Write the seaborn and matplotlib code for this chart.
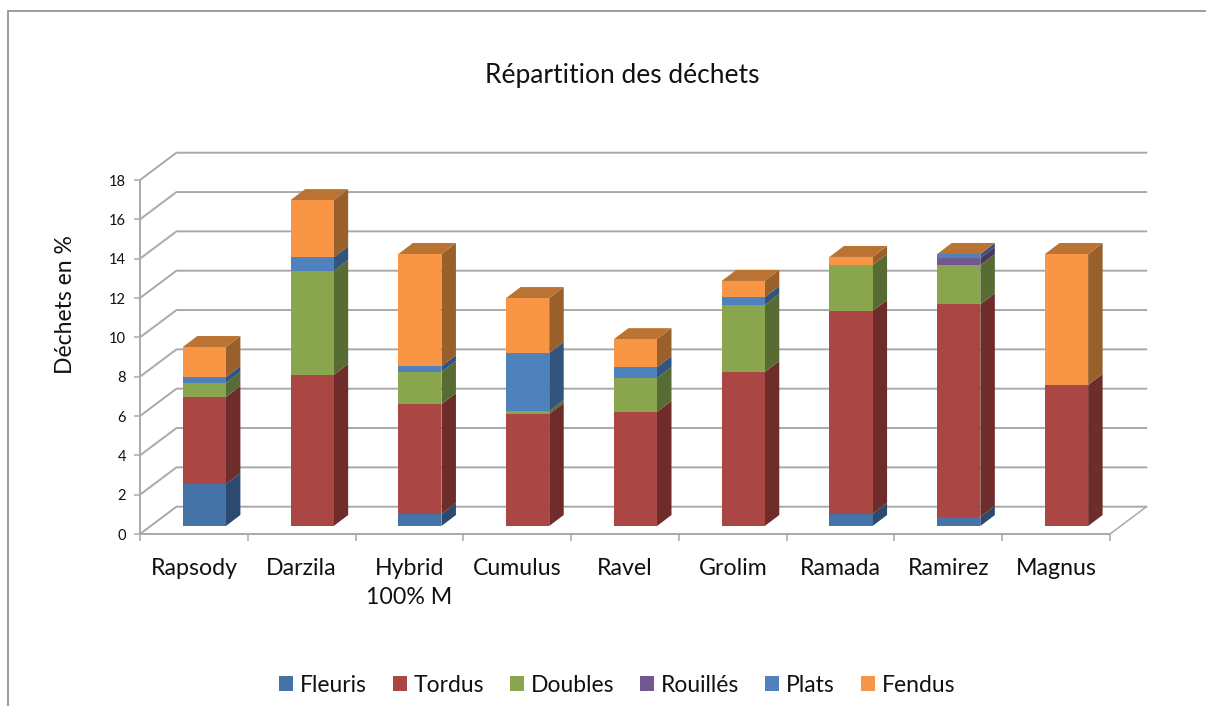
import numpy as np
import pandas as pd
import matplotlib
matplotlib.use("Agg")
import matplotlib.pyplot as plt
from matplotlib.patches import Polygon, Patch
from matplotlib.lines import Line2D
from matplotlib.transforms import Affine2D
import seaborn as sns

categories = ["Rapsody", "Darzila", "Hybrid\n100% M", "Cumulus", "Ravel", "Grolim", "Ramada", "Ramirez", "Magnus"]
fleuris = [2.13, 0, 0.61, 0, 0, 0, 0.61, 0.46, 0]
tordus = [4.43, 7.68, 5.59, 5.69, 5.80, 7.83, 10.32, 10.81, 7.17]
doubles = [0.71, 5.28, 1.63, 0.16, 1.72, 3.41, 2.34, 2.00, 0]
rouilles = [0, 0, 0, 0, 0, 0, 0, 0.35, 0]
plats = [0.30, 0.70, 0.30, 2.95, 0.56, 0.40, 0, 0.21, 0]
fendus = [1.53, 2.91, 5.70, 2.79, 1.42, 0.82, 0.41, 0, 6.66]

series_names = ["Fleuris", "Tordus", "Doubles", "Rouillés", "Plats", "Fendus"]
series_values = [fleuris, tordus, doubles, rouilles, plats, fendus]
front_colors = ["#4572A7", "#AA4643", "#89A54E", "#71588F", "#4F81BD", "#F99646"]
side_colors = ["#2C4A70", "#6E2D2B", "#586B32", "#48375E", "#33547D", "#99602B"]
top_color = "#BA7333"

sns.set_theme(style="white")
plt.rcParams["font.family"] = ["Lato", "DejaVu Sans"]
GREY = "#A9A9A9"
TXT = "#111111"

W, H = 1206, 706
fig = plt.figure(figsize=(W / 100, H / 100), dpi=100, facecolor="white")
ax = fig.add_axes([140 / W, (H - 534) / H, 970 / W, 354 / H])
ax.set_facecolor("none")

df = pd.DataFrame({"cat": categories})
cum = np.zeros(len(categories))
BAR_W = 0.40
px_x, px_y = 970 / 9, 354 / 18
off_x, off_y = 10.45 / px_x, 8 / px_y        # bars stand inside the floor
dep_x, dep_y = 14.5 / px_x, 11 / px_y        # bar depth
back_x, back_y = 36.5 / px_x, 27.3 / px_y    # back wall offset

for name, vals, fc in zip(series_names, series_values, front_colors):
    d = df.assign(v=vals)
    sns.barplot(data=d, x="cat", y="v", color=fc, saturation=1, width=BAR_W,
                bottom=cum.copy(), ax=ax, zorder=4, linewidth=0, errorbar=None)
    cum = cum + np.array(vals)

ax.set_xlim(-0.5, 8.5)
ax.set_ylim(0, 18)
front = Affine2D().translate(off_x, off_y) + ax.transData
for p in ax.patches:
    p.set_transform(front)
    p.set_clip_on(False)

# depth faces of each stacked segment
cum = np.zeros(len(categories))
for vals, sc in zip(series_values, side_colors):
    for i, v in enumerate(vals):
        if v > 0:
            x1 = i + BAR_W / 2
            b, t = cum[i], cum[i] + v
            ax.add_patch(Polygon([(x1, b), (x1, t), (x1 + dep_x, t + dep_y), (x1 + dep_x, b + dep_y)],
                                 closed=True, fc=sc, ec="none", transform=front, clip_on=False, zorder=3))
    cum = cum + np.array(vals)
for i, t in enumerate(cum):
    x0, x1 = i - BAR_W / 2, i + BAR_W / 2
    ax.add_patch(Polygon([(x0, t), (x1, t), (x1 + dep_x, t + dep_y), (x0 + dep_x, t + dep_y)],
                         closed=True, fc=top_color, ec="none", transform=front, clip_on=False, zorder=3))

# walls and floor lines
LW = 1.4
yticks = np.arange(0, 19, 2)
for v in yticks:
    ax.plot([-0.5, -0.5 + back_x, 8.5 + back_x], [v, v + back_y, v + back_y],
            color=GREY, lw=LW, clip_on=False, zorder=1, solid_joinstyle="miter")
ax.plot([8.5, 8.5 + back_x], [0, back_y], color=GREY, lw=1.1, clip_on=False, zorder=1)

# axes
sns.despine(ax=ax, top=True, right=True)
for s in ("left", "bottom"):
    ax.spines[s].set_color(GREY)
    ax.spines[s].set_linewidth(LW)
    ax.spines[s].set_zorder(2)
ax.set_yticks(yticks)
ax.set_xticks(np.arange(len(categories)))
ax.set_xticklabels(categories)
ax.set_xticks(np.arange(-0.5, 9, 1), minor=True)
ax.tick_params(axis="y", which="major", left=True, length=4, width=1.1, color=GREY,
               labelsize=10.5, labelcolor=TXT, pad=6)
ax.tick_params(axis="x", which="major", bottom=False, length=0, labelsize=16.7, labelcolor=TXT, pad=17)
ax.tick_params(axis="x", which="minor", bottom=True, length=5, width=1.1, color=GREY)
for lab in ax.get_xticklabels():
    lab.set_linespacing(1.48)
ax.set_xlabel("")
ax.set_ylabel("")

fig.text(66 / W, 1 - 305 / H, "Déchets en %", rotation=90, ha="center", va="center", fontsize=16.5, color=TXT)
fig.text(622 / W, 1 - 75 / H, "Répartition des déchets", ha="center", va="center", fontsize=19, color=TXT)

handles = [Patch(fc=c, ec="none", label=n) for n, c in zip(series_names, front_colors)]
fig.legend(handles=handles, ncol=6, loc="center", bbox_to_anchor=(617 / W, 1 - 685 / H), frameon=False,
           fontsize=16.5, labelcolor=TXT, handlelength=0.61, handleheight=0.61, handletextpad=0.3,
           columnspacing=1.13, borderpad=0)

# chart frame
fig.add_artist(Line2D([8 / W, 8 / W, 1], [0, 1 - 11 / H, 1 - 11 / H], color="#8C8C8C", lw=1.2,
                      transform=fig.transFigure, solid_joinstyle="miter"))

fig.savefig("out.png", dpi=100, facecolor="white")
